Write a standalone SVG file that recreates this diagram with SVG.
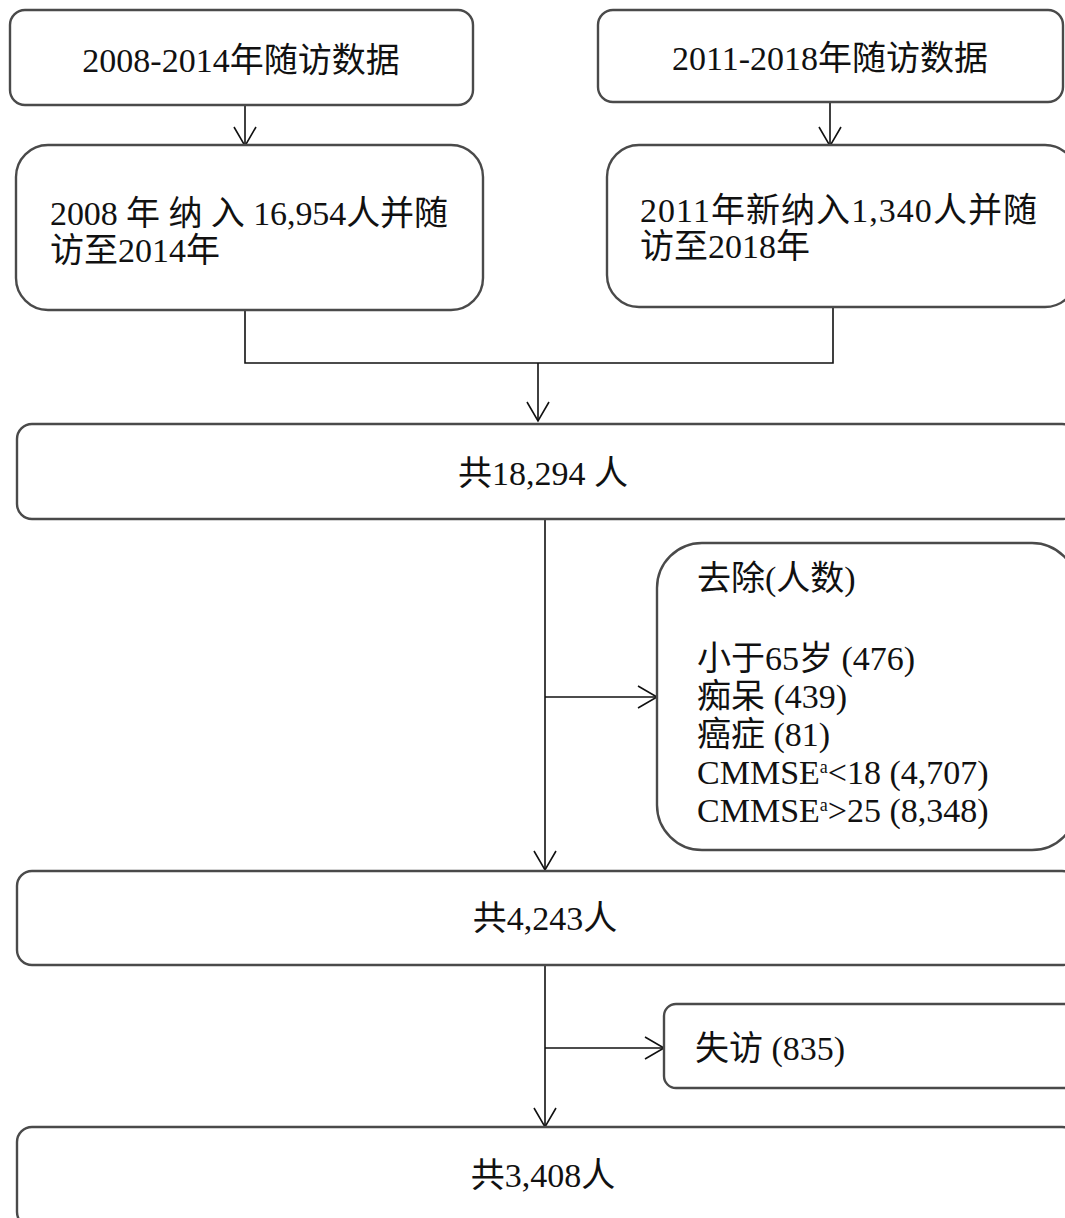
<svg xmlns="http://www.w3.org/2000/svg" width="1065" height="1218" viewBox="0 0 1065 1218">
  <style>
    .box { fill: #ffffff; stroke: #4a4a4a; stroke-width: 2.4; }
    .t { font-family: "Liberation Serif", "Noto Sans CJK SC", serif; font-size: 34px; fill: #111111; }
    .c { text-anchor: middle; }
    .sup { font-size: 18px; }
    .line { fill: none; stroke: #111111; stroke-width: 1.6; }
  </style>
  <defs>
    <marker id="arrow" viewBox="0 0 22 24" refX="20" refY="12" markerWidth="22" markerHeight="24" markerUnits="userSpaceOnUse" orient="auto">
      <path d="M1,1 L20,12 L1,23" fill="none" stroke="#111111" stroke-width="1.6"/>
    </marker>
  </defs>
  <rect width="1065" height="1218" fill="#ffffff"/>

  <g id="connectors">
    <line class="line" x1="245" y1="105" x2="245" y2="146" marker-end="url(#arrow)"/>
    <line class="line" x1="830" y1="102" x2="830" y2="146" marker-end="url(#arrow)"/>
    <polyline class="line" points="245,310 245,363 833,363 833,307"/>
    <line class="line" x1="538" y1="363" x2="538" y2="421" marker-end="url(#arrow)"/>
    <line class="line" x1="545" y1="519" x2="545" y2="870" marker-end="url(#arrow)"/>
    <line class="line" x1="545" y1="697" x2="657" y2="697" marker-end="url(#arrow)"/>
    <line class="line" x1="545" y1="965" x2="545" y2="1127" marker-end="url(#arrow)"/>
    <line class="line" x1="545" y1="1048" x2="664" y2="1048" marker-end="url(#arrow)"/>
  </g>

  <g id="source-2008">
    <rect class="box" x="10" y="10" width="463" height="95" rx="15"/>
    <text class="t c" x="241" y="72">2008-2014年随访数据</text>
  </g>

  <g id="cohort-2008">
    <rect class="box" x="16" y="145" width="467" height="165" rx="32"/>
    <text class="t" x="50" y="225" textLength="398" lengthAdjust="spacing">2008 年 纳 入 16,954人并随</text>
    <text class="t" x="50" y="262">访至2014年</text>
  </g>

  <g id="source-2011">
    <rect class="box" x="598" y="10" width="465" height="92" rx="15"/>
    <text class="t c" x="830" y="70">2011-2018年随访数据</text>
  </g>

  <g id="cohort-2011">
    <rect class="box" x="607" y="145" width="470" height="162" rx="32"/>
    <text class="t" x="640" y="222" textLength="397" lengthAdjust="spacing">2011年新纳入1,340人并随</text>
    <text class="t" x="640" y="258">访至2018年</text>
  </g>

  <g id="total-18294">
    <rect class="box" x="17" y="424" width="1060" height="95" rx="15"/>
    <text class="t c" x="543" y="485">共18,294 人</text>
  </g>

  <g id="exclusions">
    <rect class="box" x="657" y="543" width="420" height="307" rx="45"/>
    <text class="t" x="697" y="590">去除(人数)</text>
    <text class="t" x="697" y="670">小于65岁 (476)</text>
    <text class="t" x="697" y="708">痴呆 (439)</text>
    <text class="t" x="697" y="746">癌症 (81)</text>
    <text class="t" x="697" y="784">CMMSE<tspan class="sup" dy="-11">a</tspan><tspan dy="11">&lt;18 (4,707)</tspan></text>
    <text class="t" x="697" y="822">CMMSE<tspan class="sup" dy="-11">a</tspan><tspan dy="11">&gt;25 (8,348)</tspan></text>
  </g>

  <g id="total-4243">
    <rect class="box" x="17" y="871" width="1060" height="94" rx="15"/>
    <text class="t c" x="545" y="930">共4,243人</text>
  </g>

  <g id="lost-followup">
    <rect class="box" x="664" y="1004" width="413" height="84" rx="12"/>
    <text class="t" x="695" y="1060">失访 (835)</text>
  </g>

  <g id="total-3408">
    <rect class="box" x="17" y="1127" width="1060" height="100" rx="15"/>
    <text class="t c" x="543" y="1187">共3,408人</text>
  </g>
</svg>
